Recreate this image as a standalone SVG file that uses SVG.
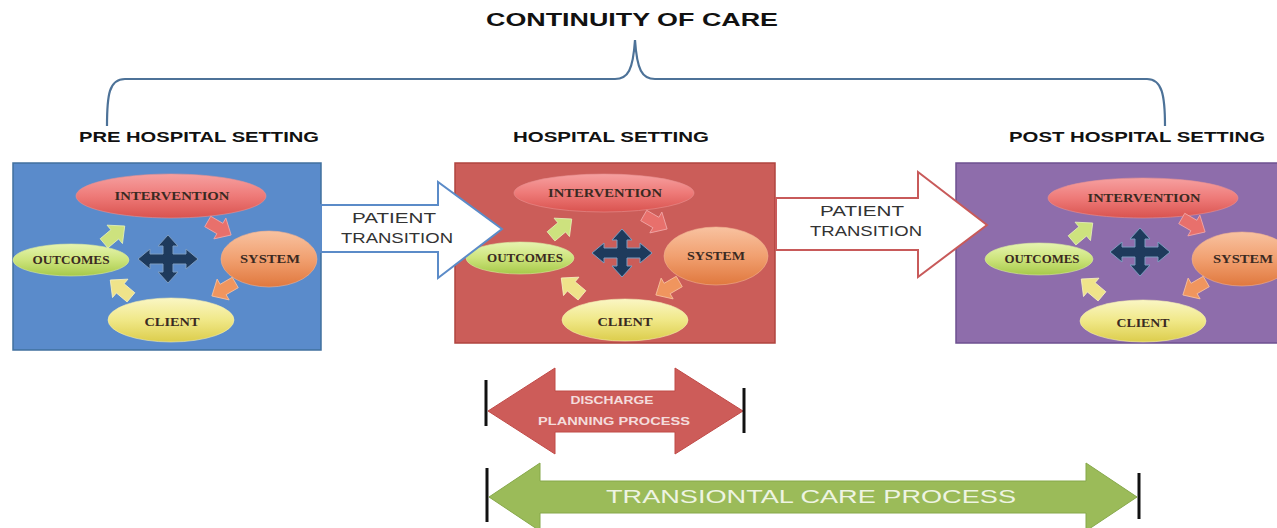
<svg xmlns="http://www.w3.org/2000/svg" width="1277" height="528" viewBox="0 0 1277 528">
<defs>
  <linearGradient id="gInt" x1="0" y1="0" x2="0" y2="1"><stop offset="0" stop-color="#f6a0a0"/><stop offset="0.5" stop-color="#ee7a78"/><stop offset="1" stop-color="#d9534f"/></linearGradient>
  <linearGradient id="gSys" x1="0" y1="0" x2="0" y2="1"><stop offset="0" stop-color="#f8c2a0"/><stop offset="0.5" stop-color="#f1a070"/><stop offset="1" stop-color="#e0783e"/></linearGradient>
  <linearGradient id="gOut" x1="0" y1="0" x2="0" y2="1"><stop offset="0" stop-color="#e6f4b0"/><stop offset="0.5" stop-color="#cde47c"/><stop offset="1" stop-color="#a6c94a"/></linearGradient>
  <linearGradient id="gCli" x1="0" y1="0" x2="0" y2="1"><stop offset="0" stop-color="#faf6c4"/><stop offset="0.5" stop-color="#f0e888"/><stop offset="1" stop-color="#dccd4c"/></linearGradient>
  <path id="sa" d="M-13,-6 L1,-6 L1,-12 L14,0 L1,12 L1,6 L-13,6 Z"/>
  <path id="cross" d="M-5,-13 L-10,-13 L0,-24 L10,-13 L5,-13 L5,-5 L18,-5 L18,-10 L30,0 L18,10 L18,5 L5,5 L5,13 L10,13 L0,24 L-10,13 L-5,13 L-5,5 L-18,5 L-18,10 L-30,0 L-18,-10 L-18,-5 L-5,-5 Z"/>
</defs>
<style>
  .hdr{font-family:"Liberation Sans",Arial,sans-serif;font-weight:bold;fill:#111;}
  .lbl{font-family:"Liberation Serif","Times New Roman",serif;font-weight:bold;font-size:12px;fill:#3a2a22;text-anchor:middle;}
  .pt{font-family:"Liberation Sans",Arial,sans-serif;font-size:15px;fill:#333;text-anchor:middle;}
  .cross{fill:#1e3a5c;stroke:#7d9cc0;stroke-width:1;}
  .bar{stroke:#111;stroke-width:3;}
  .int{fill:url(#gInt);stroke:#e89090;stroke-width:0.6;}
  .sys{fill:url(#gSys);stroke:#f0b090;stroke-width:0.6;}
  .out{fill:url(#gOut);stroke:#d8eaa0;stroke-width:0.6;}
  .cli{fill:url(#gCli);stroke:#f4ecb0;stroke-width:0.6;}
  .aG{fill:#cde27e;stroke:#e4f0b8;stroke-width:0.8;}
  .aR{fill:#e8706c;stroke:#f0a8a8;stroke-width:0.8;}
  .aO{fill:#f0955e;stroke:#f6c0a0;stroke-width:0.8;}
  .aY{fill:#efe38a;stroke:#f6f0c0;stroke-width:0.8;}
</style>

<text class="hdr" x="632" y="26" font-size="19" text-anchor="middle" textLength="292" lengthAdjust="spacingAndGlyphs">CONTINUITY OF CARE</text>

<g id="connectors">
  <path d="M107,126 C107,95 109,79 125,79 L615,79 C628,79 633,70 635,40 C637,70 642,79 655,79 L1147,79 C1162,79 1165,95 1165,126" fill="none" stroke="#4d7298" stroke-width="2.2"/>
</g>

<text class="hdr" x="199" y="142" font-size="15" text-anchor="middle" textLength="240" lengthAdjust="spacingAndGlyphs">PRE HOSPITAL SETTING</text>
<text class="hdr" x="611" y="142" font-size="15" text-anchor="middle" textLength="196" lengthAdjust="spacingAndGlyphs">HOSPITAL SETTING</text>
<text class="hdr" x="1137" y="142" font-size="15" text-anchor="middle" textLength="256" lengthAdjust="spacingAndGlyphs">POST HOSPITAL SETTING</text>

<g id="pre-hospital">
  <rect x="13" y="163" width="308" height="187" fill="#5a8bcb" stroke="#41709e" stroke-width="1.5"/>
  <ellipse class="int" cx="171" cy="196" rx="95" ry="22"/>
  <ellipse class="sys" cx="269" cy="259" rx="48" ry="28"/>
  <ellipse class="out" cx="71" cy="260" rx="58" ry="16"/>
  <ellipse class="cli" cx="171" cy="320" rx="63" ry="22"/>
  <use href="#sa" class="aG" transform="translate(114,235) rotate(-40)"/>
  <use href="#sa" class="aR" transform="translate(219,228) rotate(30)"/>
  <use href="#sa" class="aO" transform="translate(224,289) rotate(150)"/>
  <use href="#sa" class="aY" transform="translate(121,289) rotate(-140)"/>
  <use href="#cross" class="cross" transform="translate(168,259)"/>
  <text class="lbl" x="172" y="200" textLength="115" lengthAdjust="spacingAndGlyphs">INTERVENTION</text>
  <text class="lbl" x="270" y="263" textLength="60" lengthAdjust="spacingAndGlyphs">SYSTEM</text>
  <text class="lbl" x="71" y="264" textLength="77" lengthAdjust="spacingAndGlyphs">OUTCOMES</text>
  <text class="lbl" x="172" y="326" textLength="55" lengthAdjust="spacingAndGlyphs">CLIENT</text>
</g>

<g id="hospital">
  <rect x="455" y="163" width="320" height="180" fill="#cb5d59" stroke="#b0443f" stroke-width="1.5"/>
  <ellipse class="int" cx="604" cy="193" rx="90" ry="19"/>
  <ellipse class="sys" cx="716" cy="256" rx="52" ry="29"/>
  <ellipse class="out" cx="520" cy="258" rx="54" ry="16"/>
  <ellipse class="cli" cx="625" cy="320" rx="63" ry="21"/>
  <use href="#sa" class="aG" transform="translate(561,228) rotate(-40)"/>
  <use href="#sa" class="aR" transform="translate(655,222) rotate(30)"/>
  <use href="#sa" class="aO" transform="translate(668,288) rotate(150)"/>
  <use href="#sa" class="aY" transform="translate(572,287) rotate(-140)"/>
  <use href="#cross" class="cross" transform="translate(622,253)"/>
  <text class="lbl" x="605" y="197" textLength="114" lengthAdjust="spacingAndGlyphs">INTERVENTION</text>
  <text class="lbl" x="716" y="260" textLength="58" lengthAdjust="spacingAndGlyphs">SYSTEM</text>
  <text class="lbl" x="525" y="262" textLength="76" lengthAdjust="spacingAndGlyphs">OUTCOMES</text>
  <text class="lbl" x="625" y="326" textLength="55" lengthAdjust="spacingAndGlyphs">CLIENT</text>
</g>

<g id="post-hospital">
  <rect x="956" y="163" width="324" height="180" fill="#8e6dab" stroke="#6e5090" stroke-width="1.5"/>
  <ellipse class="int" cx="1143" cy="198" rx="95" ry="20"/>
  <ellipse class="sys" cx="1242" cy="259" rx="50" ry="27"/>
  <ellipse class="out" cx="1039" cy="259" rx="54" ry="16"/>
  <ellipse class="cli" cx="1143" cy="321" rx="63" ry="21"/>
  <use href="#sa" class="aG" transform="translate(1082,232) rotate(-40)"/>
  <use href="#sa" class="aR" transform="translate(1193,225) rotate(30)"/>
  <use href="#sa" class="aO" transform="translate(1195,288) rotate(150)"/>
  <use href="#sa" class="aY" transform="translate(1092,288) rotate(-140)"/>
  <use href="#cross" class="cross" transform="translate(1140,252)"/>
  <text class="lbl" x="1144" y="202" textLength="113" lengthAdjust="spacingAndGlyphs">INTERVENTION</text>
  <text class="lbl" x="1243" y="263" textLength="60" lengthAdjust="spacingAndGlyphs">SYSTEM</text>
  <text class="lbl" x="1042" y="263" textLength="75" lengthAdjust="spacingAndGlyphs">OUTCOMES</text>
  <text class="lbl" x="1143" y="327" textLength="53" lengthAdjust="spacingAndGlyphs">CLIENT</text>
</g>

<g id="transition-1">
  <polygon points="321,205 438,205 438,182 502,229 438,278 438,252 321,252" fill="#ffffff" stroke="#5b8bc8" stroke-width="2"/>
  <text class="pt" x="394" y="223" textLength="84" lengthAdjust="spacingAndGlyphs">PATIENT</text>
  <text class="pt" x="397" y="243" textLength="112" lengthAdjust="spacingAndGlyphs">TRANSITION</text>
</g>

<g id="transition-2">
  <polygon points="776,198 918,198 918,172 987,225 918,277 918,250 776,250" fill="#ffffff" stroke="#c85a5a" stroke-width="2"/>
  <text class="pt" x="862" y="216" textLength="84" lengthAdjust="spacingAndGlyphs">PATIENT</text>
  <text class="pt" x="866" y="236" textLength="112" lengthAdjust="spacingAndGlyphs">TRANSITION</text>
</g>

<g id="discharge">
  <polygon points="488,411 555,368 555,391 675,391 675,368 743,411 675,454 675,432 555,432 555,454" fill="#cd5c59" stroke="#c04a47" stroke-width="1"/>
  <line class="bar" x1="486" y1="380" x2="486" y2="426"/>
  <line class="bar" x1="744" y1="388" x2="744" y2="433"/>
  <text x="612" y="404" font-family="'Liberation Sans',Arial,sans-serif" font-size="10" font-weight="bold" fill="#f4dcdc" text-anchor="middle" textLength="83" lengthAdjust="spacingAndGlyphs">DISCHARGE</text>
  <text x="614" y="425" font-family="'Liberation Sans',Arial,sans-serif" font-size="10" font-weight="bold" fill="#f4dcdc" text-anchor="middle" textLength="152" lengthAdjust="spacingAndGlyphs">PLANNING PROCESS</text>
</g>

<g id="transitional-care">
  <polygon points="489,497 540,463 540,481 1086,481 1086,463 1137,497 1086,531 1086,513 540,513 540,531" fill="#9bbb59" stroke="#86a84a" stroke-width="1"/>
  <line class="bar" x1="487" y1="468" x2="487" y2="522"/>
  <line class="bar" x1="1139" y1="473" x2="1139" y2="519"/>
  <text x="811" y="503" font-family="'Liberation Sans',Arial,sans-serif" font-size="18" fill="#eef4e2" text-anchor="middle" textLength="410" lengthAdjust="spacingAndGlyphs">TRANSIONTAL CARE PROCESS</text>
</g>
</svg>
